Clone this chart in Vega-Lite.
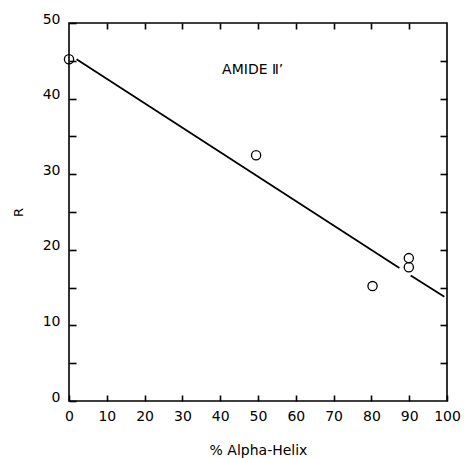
{
  "$schema": "https://vega.github.io/schema/vega-lite/v6.json",
  "width": 378,
  "height": 378,
  "autosize": "none",
  "padding": {"left": 69, "top": 23, "right": 17, "bottom": 57},
  "background": "white",
  "config": {
    "view": {"stroke": "black", "strokeWidth": 1.6},
    "axis": {"domain": false, "grid": false, "labelFont": "DejaVu Sans", "labelFontSize": 14, "labelColor": "black", "tickColor": "black", "tickWidth": 1.6, "titleFont": "DejaVu Sans", "titleColor": "black", "titleFontWeight": "normal"}
  },
  "datasets": {
    "pts": [
      {"helix": 0, "R": 45.2},
      {"helix": 49.5, "R": 32.5},
      {"helix": 80.3, "R": 15.2},
      {"helix": 89.9, "R": 18.9},
      {"helix": 89.9, "R": 17.7}
    ],
    "fit": [
      {"helix": 2, "R": 45.2, "seg": "a"},
      {"helix": 87.4, "R": 17.6, "seg": "a"},
      {"helix": 90.4, "R": 16.6, "seg": "b"},
      {"helix": 99.3, "R": 13.8, "seg": "b"}
    ],
    "lab": [{"helix": 40.5, "R": 43.8, "t": "AMIDE Ⅱ’"}]
  },
  "layer": [
    {
      "data": {"name": "pts"},
      "mark": {"type": "point", "shape": "circle", "filled": false, "stroke": "black", "strokeWidth": 1.3, "size": 85, "opacity": 1},
      "encoding": {
        "x": {"field": "helix", "type": "quantitative", "scale": {"domain": [0, 100], "nice": false, "zero": false},
          "axis": {"orient": "bottom", "values": [0, 10, 20, 30, 40, 50, 60, 70, 80, 90, 100], "tickSize": -6, "labelPadding": 14, "labelFlush": false, "labelOverlap": false, "title": "% Alpha-Helix", "titleFontSize": 14, "titlePadding": 20}},
        "y": {"field": "R", "type": "quantitative", "scale": {"domain": [0, 50], "nice": false, "zero": false},
          "axis": {"orient": "left", "values": [0, 5, 10, 15, 20, 25, 30, 35, 40, 45, 50], "tickSize": -7, "labelPadding": 16, "labelOffset": -4, "labelExpr": "datum.value % 10 == 0 ? datum.label : ''", "labelFlush": false, "labelOverlap": false, "title": "R", "titleFontSize": 13, "titlePadding": 17}}
      }
    },
    {
      "data": {"name": "fit"},
      "mark": {"type": "line", "stroke": "black", "strokeWidth": 1.8},
      "encoding": {
        "x": {"field": "helix", "type": "quantitative", "scale": {"domain": [0, 100], "nice": false, "zero": false},
          "axis": {"orient": "top", "values": [10, 20, 30, 40, 50, 60, 70, 80, 90], "tickSize": -6, "labels": false, "title": null}},
        "y": {"field": "R", "type": "quantitative", "scale": {"domain": [0, 50], "nice": false, "zero": false},
          "axis": {"orient": "right", "values": [5, 10, 15, 20, 25, 30, 35, 40, 45], "tickSize": -7, "labels": false, "title": null}},
        "detail": {"field": "seg"}
      }
    },
    {
      "data": {"name": "lab"},
      "mark": {"type": "text", "align": "left", "baseline": "middle", "font": "DejaVu Sans", "fontSize": 14, "color": "black"},
      "encoding": {
        "x": {"field": "helix", "type": "quantitative", "scale": {"domain": [0, 100], "nice": false, "zero": false}, "axis": null},
        "y": {"field": "R", "type": "quantitative", "scale": {"domain": [0, 50], "nice": false, "zero": false}, "axis": null},
        "text": {"field": "t"}
      }
    }
  ],
  "resolve": {"axis": {"x": "independent", "y": "independent"}}
}
